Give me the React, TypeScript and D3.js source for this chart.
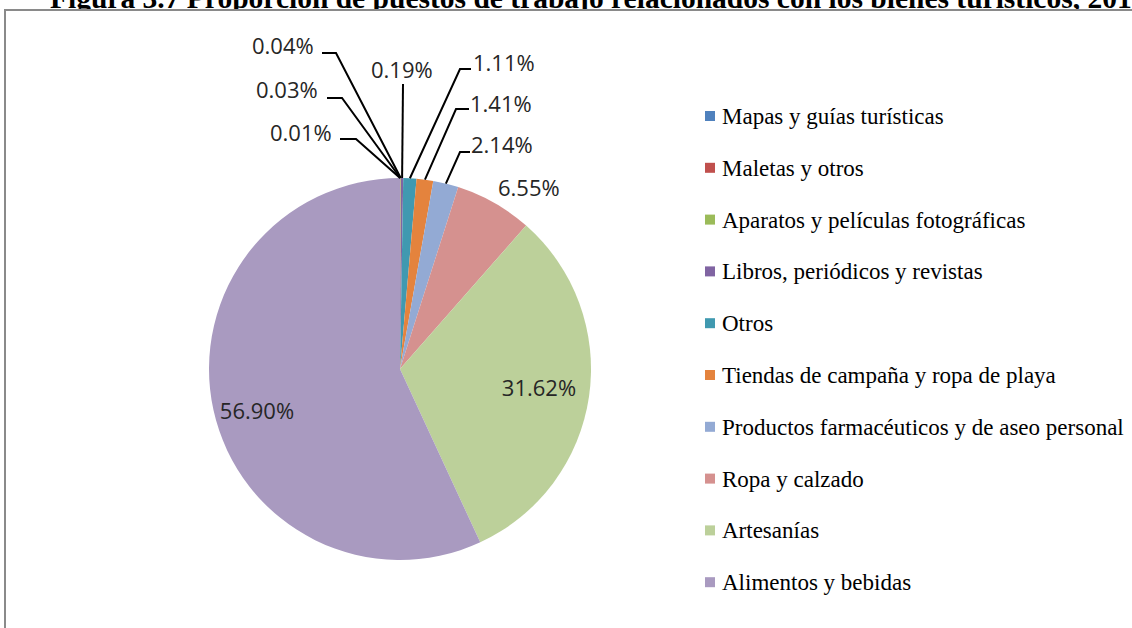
import React from "react";
import * as d3 from "d3";

const categories = [
  "Mapas y guías turísticas",
  "Maletas y otros",
  "Aparatos y películas fotográficas",
  "Libros, periódicos y revistas",
  "Otros",
  "Tiendas de campaña y ropa de playa",
  "Productos farmacéuticos y de aseo personal",
  "Ropa y calzado",
  "Artesanías",
  "Alimentos y bebidas",
];
const values = [0.01, 0.03, 0.04, 0.19, 1.11, 1.41, 2.14, 6.55, 31.62, 56.9];
const colors = [
  "#4F81BD",
  "#C0504D",
  "#9BBB59",
  "#8064A2",
  "#4099B0",
  "#E4833D",
  "#93AAD4",
  "#D5918F",
  "#BCD09A",
  "#A99AC0",
];
const title =
  "Figura 3.7 Proporción de puestos de trabajo relacionados con los bienes turísticos, 2015";

// label layout: text x, baseline y, leader knee (kx,ky), leader end (ex) ; null = no leader
type LP = { x: number; y: number; anchor: string; leader: null | { kx: number; ky: number; ex: number } };
const labelLayout: LP[] = [
  { x: 270, y: 141, anchor: "start", leader: { kx: 356, ky: 139, ex: 340 } },
  { x: 256, y: 98, anchor: "start", leader: { kx: 342, ky: 98, ex: 327 } },
  { x: 252, y: 54, anchor: "start", leader: { kx: 336, ky: 53, ex: 322 } },
  { x: 371, y: 78, anchor: "start", leader: { kx: 403, ky: 84, ex: 403 } },
  { x: 473, y: 71, anchor: "start", leader: { kx: 460, ky: 69, ex: 471 } },
  { x: 470, y: 112, anchor: "start", leader: { kx: 456, ky: 109, ex: 469 } },
  { x: 471, y: 153, anchor: "start", leader: { kx: 460, ky: 152, ex: 470 } },
  { x: 498, y: 196, anchor: "start", leader: null },
  { x: 539, y: 396, anchor: "middle", leader: null },
  { x: 257, y: 419, anchor: "middle", leader: null },
];

export default function App() {
  const W = 1132;
  const H = 628;
  const cx = 400;
  const cy = 369;
  const r = 191;
  const data = categories.map((c, i) => ({ name: c, value: values[i], color: colors[i] }));
  const pie = d3.pie<any>().sort(null).value((d: any) => d.value);
  const arcs = pie(data);
  const arc = d3.arc<any>().innerRadius(0).outerRadius(r);

  const legendX = 705;
  const legendY0 = 116;
  const legendStep = 51.8;

  return (
    <svg
      width={W}
      height={H}
      style={{ position: "absolute", left: 0, top: 0, background: "#fff" }}
    >
      <text
        x={50}
        y={8}
        fontFamily="'Liberation Serif', 'Times New Roman', serif"
        fontWeight="bold"
        fontSize={29.5}
        fill="#000"
      >
        {title}
      </text>
      <rect x={5} y={10} width={W + 20} height={H + 20} fill="#fff" stroke="#8a8a8a" strokeWidth={2} />
      <g transform={`translate(${cx},${cy})`}>
        {arcs.map((a, i) => (
          <path key={i} d={arc(a) as string} fill={a.data.color} stroke="none" />
        ))}
      </g>
      {arcs.map((a, i) => {
        const L = labelLayout[i];
        const mid = (a.startAngle + a.endAngle) / 2;
        const px = cx + r * Math.sin(mid);
        const py = cy - r * Math.cos(mid);
        return (
          <g key={"l" + i}>
            {L.leader && (
              <polyline
                points={`${px},${py} ${L.leader.kx},${L.leader.ky} ${L.leader.ex},${L.leader.ky}`}
                fill="none"
                stroke="#000"
                strokeWidth={2}
              />
            )}
            <text
              x={L.x}
              y={L.y}
              textAnchor={L.anchor}
              fontFamily="'Open Sans', sans-serif"
              fontSize={22}
              fill="#262626"
            >
              {d3.format(".2f")(a.data.value)}%
            </text>
          </g>
        );
      })}
      {categories.map((c, i) => (
        <g key={"lg" + i} transform={`translate(${legendX},${legendY0 + i * legendStep})`}>
          <rect x={0} y={-5} width={10} height={10} fill={colors[i]} />
          <text
            x={17}
            y={8}
            fontFamily="'Liberation Serif', 'Times New Roman', serif"
            fontSize={23}
            fill="#000"
          >
            {c}
          </text>
        </g>
      ))}
    </svg>
  );
}
